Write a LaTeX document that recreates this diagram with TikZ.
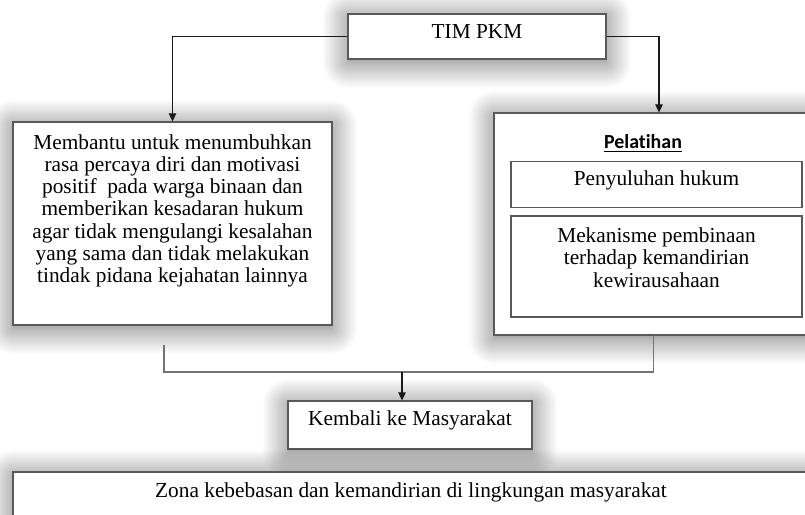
\documentclass[tikz,border=0pt]{standalone}
\usepackage{fontspec}
\setmainfont{Liberation Serif}
\newfontfamily\judulfont[Ligatures=NoCommon]{Carlito}
\usetikzlibrary{arrows.meta,shadows.blur}

\tikzset{
  kotak/.style={draw=black!65, line width=0.9pt, fill=white, inner sep=0pt},
  bayang/.style={kotak, blur shadow={shadow xshift=0pt, shadow yshift=-3pt,
      shadow blur radius=22pt, shadow blur steps=16, shadow opacity=58}},
  teks/.style={inner sep=0pt, align=center, font=\fontsize{18.2}{19}\selectfont},
  panah/.style={-{Triangle[length=7pt, width=6.5pt]}, line width=0.9pt, black!90},
  garis/.style={line width=0.9pt, black!55},
}

\begin{document}
\begin{tikzpicture}[x=0.03cm, y=-0.03cm]
  \useasboundingbox (0,0) rectangle (805,515);
  \clip (0,0) rectangle (805,515);

  % kotak utama (dengan bayangan)
  \foreach \nm/\cx/\cy/\lb/\tg in {
    tim/477/36.5/7.74/1.35, bantu/172.5/223.5/9.57/6.09, latih/659/224/9.9/6.66,
    kembali/410/425/7.32/1.44, zona/421.5/506/24.51/2.04} {
    \node[bayang, minimum width=\lb cm, minimum height=\tg cm] (\nm) at (\cx,\cy) {};
  }
  % kotak di dalam pelatihan
  \foreach \nm/\cy/\tg in {suluh/184.5/1.38, mekanisme/266.5/3.03} {
    \node[kotak, minimum width=8.73cm, minimum height=\tg cm] (\nm) at (656.5,\cy) {};
  }

  \node[teks, anchor=base] (timteks) at (477,39) {TIM PKM};
  \node[teks, anchor=north] (bantuteks) at (172.5,134) {Membantu untuk menumbuhkan\\
    rasa percaya diri dan motivasi\\ positif\ \ pada warga binaan dan\\
    memberikan kesadaran hukum\\ agar tidak mengulangi kesalahan\\
    yang sama dan tidak melakukan\\ tindak pidana kejahatan lainnya};
  \node[inner sep=0pt, anchor=base, font=\judulfont\bfseries\fontsize{17}{19}\selectfont]
    (judul) at (643,149) {\underline{Pelatihan}};
  \node[teks, anchor=base] (suluhteks) at (656.5,186) {Penyuluhan hukum};
  \node[teks, anchor=north] (mekanismeteks) at (656.5,227.5) {Mekanisme pembinaan\\
    terhadap kemandirian\\ kewirausahaan};
  \node[teks, anchor=base] (kembaliteks) at (410,426) {Kembali ke Masyarakat};
  \node[teks, anchor=base] (zonateks) at (411,498)
    {Zona kebebasan dan kemandirian di lingkungan masyarakat};

  \draw[panah] (tim.west) -| (bantu.north);
  \draw[panah] (tim.east) -| (latih.north);

  \coordinate (kiri) at (164,345);
  \coordinate (kanan) at (653.5,335);
  \coordinate (temu) at (402,372);
  \draw[garis] (kiri) |- (kanan |- temu) -- (kanan);
  \draw[panah] (temu) -- (temu |- kembali.north);
\end{tikzpicture}
\end{document}
